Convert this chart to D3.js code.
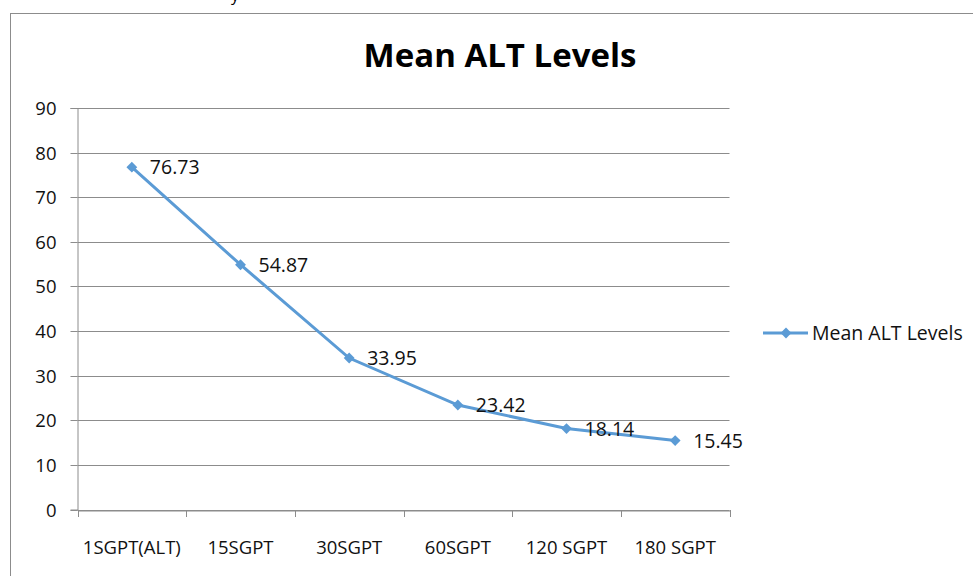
<!DOCTYPE html>
<html><head><meta charset="utf-8">
<script src="https://cdn.jsdelivr.net/npm/d3@7"></script>
<style>body{margin:0;background:#fff}svg{display:block}</style>
</head><body>
<script>
const categories = ["1SGPT(ALT)", "15SGPT", "30SGPT", "60SGPT", "120 SGPT", "180 SGPT"];
const values = [76.73, 54.87, 33.95, 23.42, 18.14, 15.45];
const yTicks = [0, 10, 20, 30, 40, 50, 60, 70, 80, 90];
const seriesName = "Mean ALT Levels";
const title = "Mean ALT Levels";

const W = 973, H = 576;
const font = "'Open Sans', 'Liberation Sans', sans-serif";
const txt = "#111";
const svg = d3.select("body").append("svg").attr("width", W).attr("height", H);

svg.append("text").attr("x", 231).attr("y", 1).attr("font-family", font).attr("font-size", 16).attr("fill", "#000").text("y");

svg.append("rect").attr("x", 10.5).attr("y", 13.5).attr("width", 980).attr("height", 600)
  .attr("fill", "#fff").attr("stroke", "#8c8c8c").attr("stroke-width", 1);

const pL = 77.5, pR = 729.5, pT = 108, pB = 509.5;
const x = d3.scaleBand().domain(categories).range([pL, pR]).padding(0);
const y = d3.scaleLinear().domain([0, 90]).range([pB, pT]);

svg.append("g").selectAll("line").data(yTicks).join("line")
  .attr("x1", pL).attr("x2", pR)
  .attr("y1", d => Math.round(y(d)) + 0.5).attr("y2", d => Math.round(y(d)) + 0.5)
  .attr("stroke", "#8c8c8c").attr("stroke-width", 1);

const yAxis = svg.append("g").attr("transform", `translate(${pL},0)`)
  .call(d3.axisLeft(y).tickValues(yTicks).tickSize(7).tickPadding(14).tickFormat(d3.format("d")));
yAxis.select(".domain").attr("stroke", "#8c8c8c");
yAxis.selectAll(".tick line").attr("stroke", "#8c8c8c");
yAxis.selectAll(".tick").attr("transform", d => `translate(0,${Math.round(y(d)) + 0.5})`);
yAxis.selectAll("text").attr("font-family", font).attr("font-size", 18.5).attr("fill", txt).attr("dy", "0.33em");

const xAxis = svg.append("g").attr("transform", `translate(0,${Math.round(pB) + 0.5})`)
  .call(d3.axisBottom(x).tickSize(0).tickPadding(0));
xAxis.select(".domain").attr("stroke", "#8c8c8c");
xAxis.selectAll(".tick line").remove();
xAxis.selectAll("text").attr("font-family", font).attr("font-size", 18.5).attr("fill", txt)
  .attr("dy", 0).attr("y", 43);
const bounds = categories.map(c => x(c)).concat([pR]);
svg.append("g").selectAll("line").data(bounds).join("line")
  .attr("x1", d => Math.round(d) + 0.5).attr("x2", d => Math.round(d) + 0.5)
  .attr("y1", Math.round(pB)).attr("y2", Math.round(pB) + 7)
  .attr("stroke", "#8c8c8c");

const color = "#5b9bd5";
const cx = c => x(c) + x.bandwidth() / 2;
const line = d3.line().x((d, i) => cx(categories[i])).y(d => y(d));
svg.append("path").datum(values).attr("d", line).attr("fill", "none")
  .attr("stroke", color).attr("stroke-width", 3);
const diamond = d3.symbol().type(d3.symbolDiamond2).size(75);
svg.append("g").selectAll("path").data(values).join("path")
  .attr("d", diamond).attr("fill", color)
  .attr("transform", (d, i) => `translate(${cx(categories[i])},${y(d)})`);

svg.append("g").selectAll("text").data(values).join("text")
  .attr("x", (d, i) => cx(categories[i]) + 18).attr("y", d => y(d)).attr("dy", "0.36em")
  .attr("font-family", font).attr("font-size", 19.5).attr("fill", txt)
  .text(d => d3.format(".2f")(d));

svg.append("text").attr("x", 500).attr("y", 67).attr("text-anchor", "middle")
  .attr("font-family", font).attr("font-weight", "bold").attr("font-size", 33).attr("fill", "#000")
  .text(title);

const ly = 333;
svg.append("line").attr("x1", 763).attr("x2", 808).attr("y1", ly).attr("y2", ly)
  .attr("stroke", color).attr("stroke-width", 3);
svg.append("path").attr("d", diamond).attr("fill", color).attr("transform", `translate(786,${ly})`);
svg.append("text").attr("x", 812).attr("y", ly).attr("dy", "0.36em")
  .attr("font-family", font).attr("font-size", 19.5).attr("fill", txt).text(seriesName);
</script>
</body></html>
